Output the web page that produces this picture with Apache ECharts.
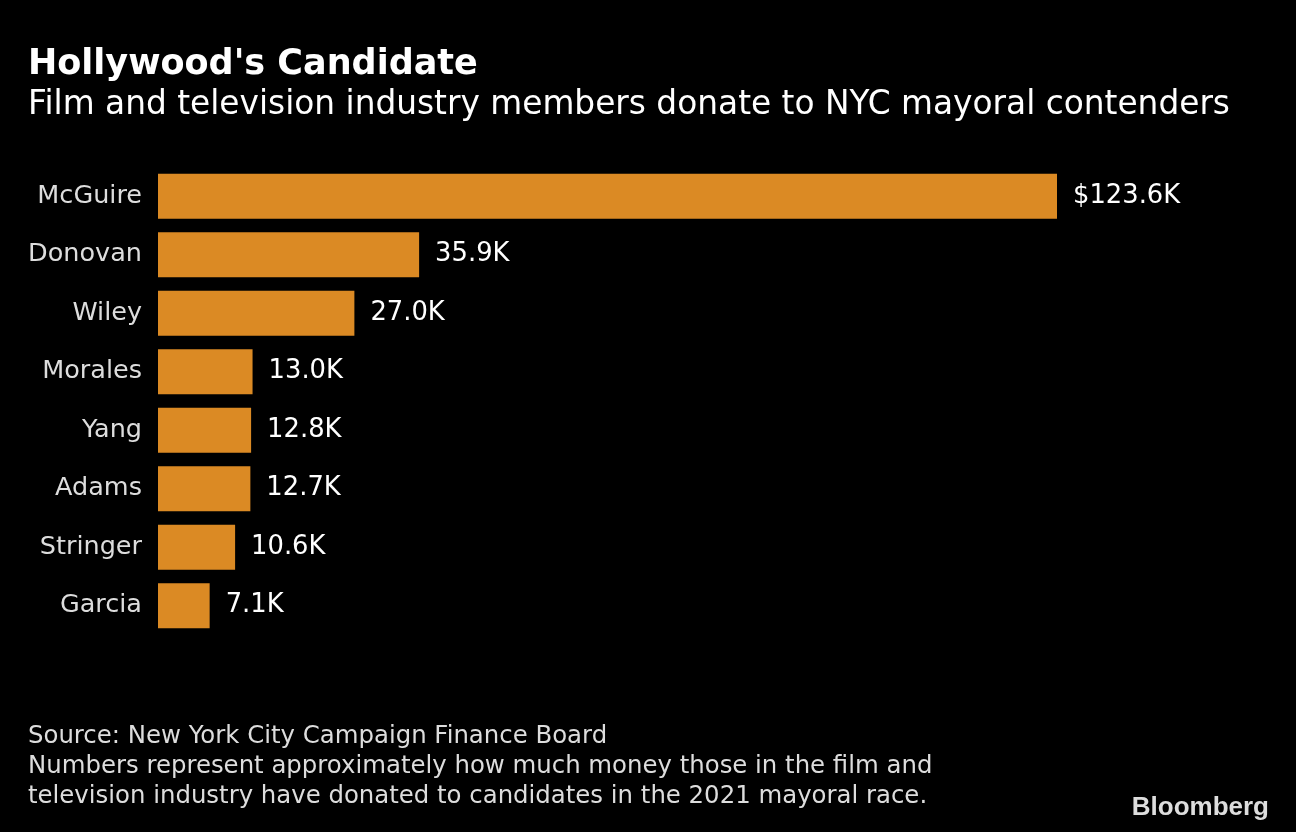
<!DOCTYPE html>
<html><head><meta charset="utf-8">
<script src="https://cdn.jsdelivr.net/npm/echarts@6/dist/echarts.min.js"></script>
<style>html,body{margin:0;padding:0;background:#000;}#c{width:1296px;height:832px;}</style>
</head><body><div id="c"></div>
<script>
const categories = ["McGuire","Donovan","Wiley","Morales","Yang","Adams","Stringer","Garcia"];
const values = [123.6, 35.9, 27.0, 13.0, 12.8, 12.7, 10.6, 7.1];
const valueLabels = ["$123.6K","35.9K","27.0K","13.0K","12.8K","12.7K","10.6K","7.1K"];

const chart = echarts.init(document.getElementById('c'));
const font = '"DejaVu Sans", sans-serif';
chart.setOption({
  backgroundColor: '#000',
  animation: false,
  title: [
    {text: "Hollywood's Candidate", left: 23, top: 42, textStyle: {color: '#fff', fontSize: 35, fontWeight: 'bold', fontFamily: font}},
    {text: "Film and television industry members donate to NYC mayoral contenders", left: 23, top: 84, textStyle: {color: '#fff', fontSize: 32.8, fontWeight: 'normal', fontFamily: font}},
    {text: "Source: New York City Campaign Finance Board\nNumbers represent approximately how much money those in the film and\ntelevision industry have donated to candidates in the 2021 mayoral race.", left: 23, top: 717, textStyle: {color: '#ddd', fontSize: 24.4, lineHeight: 30, fontWeight: 'normal', fontFamily: font}},
    {text: "Bloomberg", right: 22, top: 790, textStyle: {color: '#ddd', fontSize: 26, fontWeight: 'bold', fontFamily: '"Liberation Sans", Arial, sans-serif'}}
  ],
  grid: {left: 158, right: 239, top: 167, bottom: 197, containLabel: false},
  xAxis: {type: 'value', min: 0, max: 123.6, show: false},
  yAxis: {
    type: 'category', data: categories, inverse: true,
    axisLine: {show: false}, axisTick: {show: false},
    axisLabel: {color: '#ddd', fontSize: 25.5, margin: 16, fontFamily: font}
  },
  series: [{
    type: 'bar', data: values, barWidth: 45,
    itemStyle: {color: '#DB8A24'},
    label: {show: true, position: 'right', distance: 16, color: '#fff', fontSize: 25.8, fontFamily: font,
      formatter: p => valueLabels[p.dataIndex]}
  }]
});
</script></body></html>
